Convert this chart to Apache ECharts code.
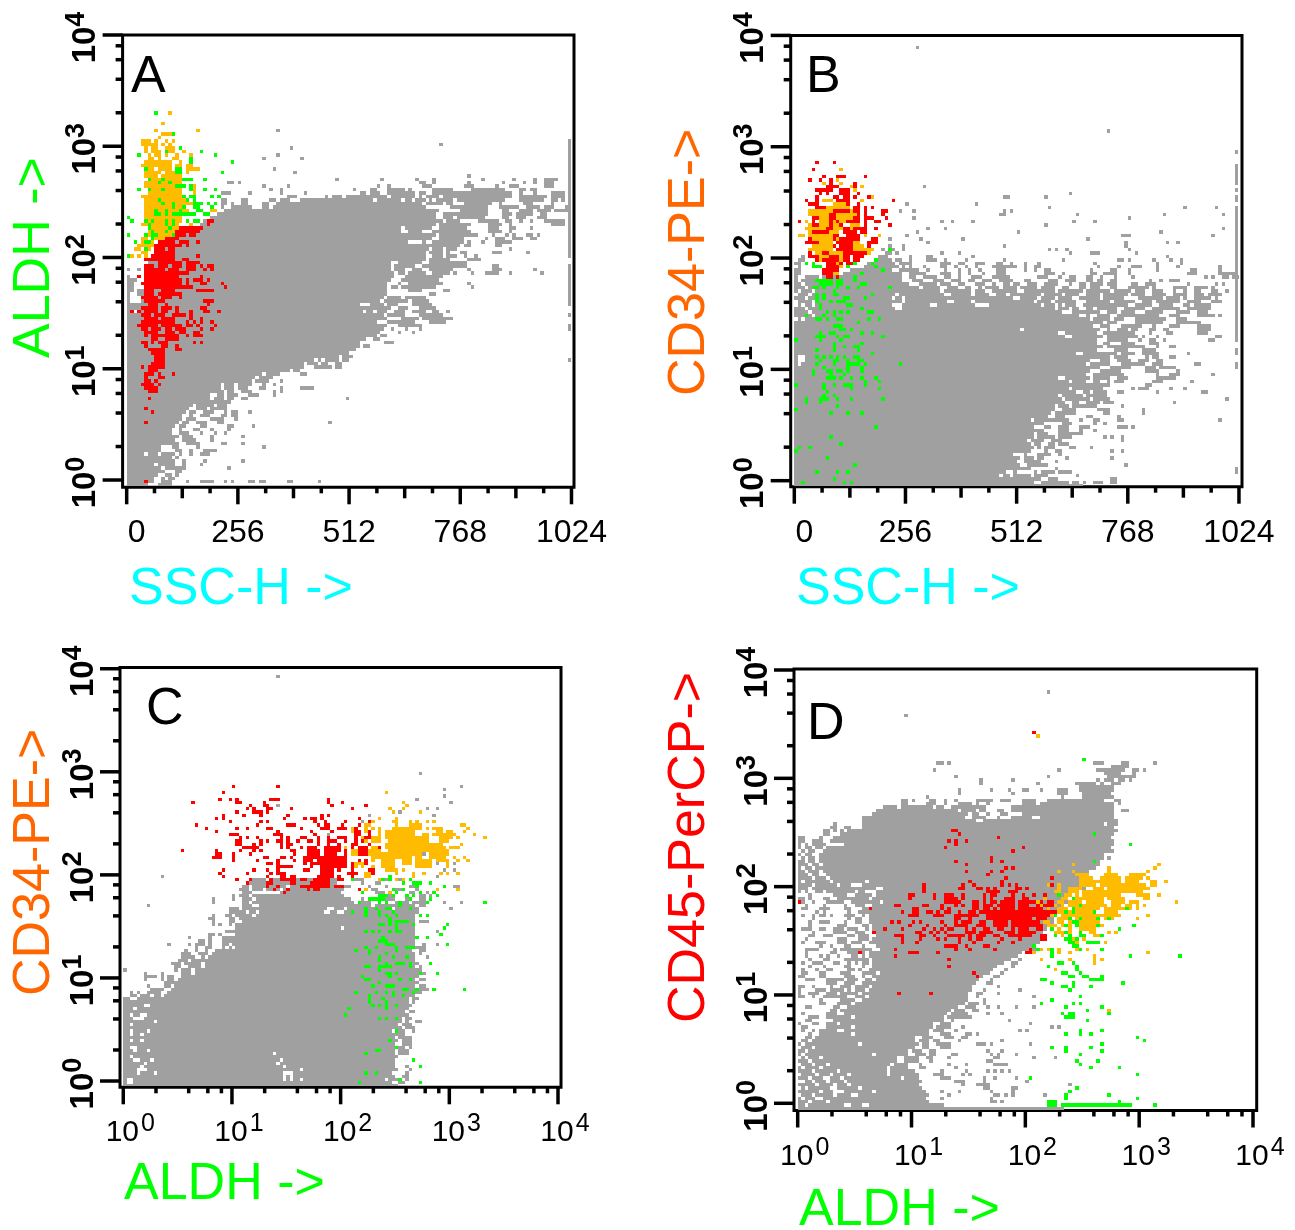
<!DOCTYPE html>
<html><head><meta charset="utf-8">
<style>html,body{margin:0;padding:0;background:#fff}#c{width:1295px;height:1230px}</style>
<script src="https://cdn.jsdelivr.net/npm/echarts@6/dist/echarts.min.js"></script></head>
<body><div id="c"></div><script>
// Events binned into cells: 32 channels per decade on log axes, 8 units per cell on the SSC-H axis.
// Row format: [row, firstCol, lastCol, firstCol, lastCol, ...]
const A_gray=[[-2,0,5,9,12],[-1,0,7,10,12,17,17,21,24,28,28,30,30,35,36,38,39,46,47,55,55],[0,0,7,10,10,12,13],[1,0,8,11,12,14,14],[2,0,10,14,15],[3,0,9,11,16,29,29],[4,0,7,9,13,16,16,21,21],[5,0,8,9,13,16,16,22,22,33,33],[6,0,12,14,14],[7,0,4,6,8,10,13,15,15,18,18,21,23],[8,0,9,14,15,18,18,22,25],[9,0,9,13,14,20,20,39,39],[10,0,14,17,20,27,28,33,33],[11,0,13,16,19,24,24],[12,0,14,16,18,24,24,33,33],[13,0,12,15,17,21,21,25,25,28,28],[14,0,12,15,15,19,20,24,24,29,29],[15,0,13,15,16,21,22,29,30,36,36],[16,0,14,16,17,20,22,26,27,58,58],[17,0,15,17,19,24,27,31,31],[18,0,15,18,18,21,23,27,28,30,31],[19,0,16,18,19,22,24,28,28,30,31,35,35],[20,0,17,20,22,24,28],[21,0,15,16,18,20,24,26,28],[22,0,22,23,29],[23,0,23,25,27,29,30,33,34,63,63],[24,0,23,26,27,29,31,35,37,42,42],[25,0,27,29,30,33,35,42,42,44,44],[26,0,26,28,30,32,34,38,39,44,44,50,53],[27,0,26,28,30,32,35,39,39,42,42],[28,0,35,37,40,44,44],[29,0,36,38,41],[30,0,38,40,43,50,51],[31,0,46,48,49],[32,0,50,54,58,60,61],[33,0,50,52,54,56,57,60,61],[34,0,53,55,55,57,60,62,63],[35,0,60,62,64],[36,0,63],[37,0,65],[38,0,66,68,69],[39,0,66,74,76],[40,0,68,71,72],[41,0,71,73,74],[42,0,72,78,78,82,82],[43,0,73,76,76,80,80,84,84],[44,0,74,78,84],[45,0,71,75,82,87,91],[46,0,74,79,83,85,93],[47,0,73,75,79,84,90],[48,0,0,4,67,69,70,72,74,77,79,82,85,88,89,92,92],[49,0,75,78,80,84,88],[50,0,66,70,73,75,77,82,87],[51,0,0,4,72,74,80,82,86],[52,0,0,4,73,75,78,80,85],[53,0,0,3,74,87,88],[54,0,1,3,74,81,84,91,92],[55,0,1,5,73,74,74,76,77,79,88,99,99],[56,0,1,5,74,78,78,81,90,98,98],[57,0,2,5,75,79,89],[58,0,0,5,76,80,90],[59,5,76,78,79,81,85,88,92,94,94,99,99,103,106,110,110,119,119],[60,0,0,3,3,5,75,77,79,82,84,87,93,98,98,105,107,117,117],[61,5,75,77,82,85,97,105,106],[62,6,75,78,84,87,97],[63,7,85,87,92,98,101],[64,8,85,88,90,92,94,97,97,100,100],[65,9,85,87,90,92,92,96,97,105,107,115,115],[66,11,86,88,90,92,94,110,110],[67,13,87,87,95,97,98,106,107],[68,14,77,78,80,85,85,88,96,98,98,102,102,106,110],[69,15,87,90,96,103,103,106,108,111,113,116,117],[70,17,88,90,100,105,105,109,109,111,111,115,116,118,118],[71,19,78,81,84,88,98,104,107,110,110],[72,20,78,80,87,90,97,104,106,110,111,116,116],[73,21,88,90,98,104,107,110,110,122,125],[74,22,90,92,95,101,106,109,110,113,113,116,116,120,125],[75,24,88,91,93,95,102,108,109,112,114,118,120],[76,26,88,91,103,108,110,112,116,119,120],[77,28,89,96,103,108,109,113,116,118,121,123,126],[78,27,27,30,35,39,40,42,85,93,103,107,112,115,118,120,122,126,127],[79,27,28,30,30,33,34,39,40,43,84,86,90,92,93,97,104,107,107,114,116,122,122],[80,27,28,33,34,41,42,44,46,50,70,72,78,80,81,83,85,87,87,89,93,95,108,113,119,122,123,125,125],[81,46,48,57,57,59,61,63,74,76,82,84,84,86,89,91,110,113,120,122,125,127,127],[82,27,29,35,35,44,44,51,51,67,68,70,72,75,82,84,85,88,110,113,113,117,117,122,125],[83,41,41,44,44,65,65,70,71,75,79,81,81,88,93,99,108,113,114,116,117],[84,39,39,46,46,72,72,75,75,85,87,97,99,106,106,110,112,120,122],[85,29,30,32,32,84,85,88,88,98,98,108,108,114,114,117,117,120,122],[86,60,60,73,73,83,83,88,88,102,102,111,111,117,117,120,123],[87,98,98],[88,48,48],[89,42,42],[92,39,39,50,50],[93,43,43],[95,47,47],[96,90,90],[100,43,43]];
const A_grayEdge=[[127,64,97],[127,50,61],[127,47,47],[127,43,44],[127,34,34]];
const A_orange=[[105,12,12],[102,10,10],[100,8,8,20,20],[99,10,12],[98,9,9],[97,4,6,8,8,11,11,13,13],[96,4,6,7,8,10,10,12,12],[95,5,5,7,8,11,13],[94,5,5,7,9,12,13,16,16],[93,6,6,8,9,11,11,14,14,18,18],[92,6,7,9,9,13,14],[91,5,12,15,15],[90,4,12,14,15,17,18],[89,5,7,9,12,15,15,17,20],[88,5,7,8,9,11,15,17,17],[87,5,8,10,15],[86,6,15],[85,5,15],[84,5,15,18,19],[83,6,15,18,19],[82,6,15,19,19],[81,4,16,19,19],[80,5,17],[79,5,18],[78,5,16],[77,5,17,24,25],[76,5,16],[75,5,15],[74,5,15],[73,4,14,18,18],[72,6,17],[71,6,17],[70,6,16],[69,4,5,7,10,12,13],[68,4,5,7,7,12,13],[67,3,4,5,9],[66,2,3,5,6],[65,4,5],[64,1,1,3,3,5,5],[63,5,5]];
const A_red=[[74,23,24],[73,23,23],[72,15,20,21,21],[71,14,20],[70,13,16,18,19],[69,11,14],[68,9,13,15,17,20,20],[67,8,15,17,17],[66,8,10,12,13],[65,8,13],[64,7,13,20,20],[63,5,8,9,13,16,17],[62,9,15,17,20],[61,5,7,9,11,13,15,17,19,21,21,23,24],[60,5,10,12,14,17,19,22,22,24,24],[59,5,17],[58,3,3,5,14,21,21],[57,5,15,17,17,19,21,23,23],[56,4,15,17,17,21,22,27,27],[55,5,18,28,28],[54,5,7,10,13,20,24],[53,5,7,9,15],[52,4,8,10,12,15,15],[51,5,10,22,24],[50,6,8,11,11,23,23],[49,4,8,10,12,14,14,21,22],[48,1,1,3,3,5,8,10,11,14,14,18,18,22,23,26,26],[47,4,6,8,10,13,16,18,18],[46,5,8,10,13,18,18,21,21],[45,4,11,12,13,17,17,19,19,21,21,24,24],[44,3,8,10,15,17,18,20,20,25,25],[43,4,5,7,9,11,12,14,16,21,21,24,24],[42,5,8,11,13,15,16,19,20],[41,5,5,7,14,17,17,19,21],[40,7,8,11,14],[39,4,5,7,7,9,11,19,19,21,21],[38,5,5,10,11,14,14],[37,6,10,14,15],[36,7,10],[35,8,10],[34,8,10],[33,7,10],[32,4,4,6,10],[31,6,8],[30,5,7,9,9,13,13],[29,5,5,9,10],[28,5,6,8,8],[27,4,7,9,9],[26,5,8],[25,6,8],[23,6,6],[20,5,5],[19,7,7],[16,5,5],[-1,5,5]];
const A_green=[[105,8,8],[99,13,13],[95,15,15],[94,11,11,21,21],[93,3,3,25,25],[92,18,18],[91,30,30,18,18],[89,5,5,14,15],[88,27,27,14,15],[86,6,6,10,10,16,18,22,22],[85,9,9,12,12],[84,14,16,18,18],[83,3,3,6,6,10,10,18,18,22,22,25,25],[81,16,16,18,19,24,24,26,26],[80,9,9,17,17,19,19],[79,10,10,13,13,19,21,23,23,25,25],[78,13,13,16,16,19,20,24,24],[77,8,8,11,11,15,15,20,21],[76,8,9,11,11,13,16,17,19,22,23],[75,0,0],[74,1,1,5,5,7,7,11,11,13,13,17,17,19,20],[73,6,6,11,11,13,13],[72,6,6,12,12],[71,7,7,11,11],[70,0,0,5,5,7,8,13,13],[69,7,7],[68,2,2,5,6],[66,5,5],[64,0,0]];
const B_gray=[[-2,0,82],[-1,0,68,71,78,80,81,83,83,86,88,91,92],[0,0,70,73,75,91,92],[1,0,58,60,61,63,67,69,72,81,81],[2,0,60,63,63,69,69,71,74,76,79],[3,0,67,75,75],[4,0,64,67,72,95,95],[5,0,63,66,70,75,75],[6,0,64,66,68,70,71,78,78,91,91],[7,0,62,66,66,70,73,76,76],[8,0,67,72,72,75,76,91,91,94,94],[9,0,68,70,70,72,74,79,80,85,85],[10,0,67,69,70,73,74,76,78],[11,0,66,68,71,74,76,94,94],[12,0,68,70,74,76,79,89,89,91,91,94,94],[13,0,68,70,72,76,82],[14,0,71,76,78,82,82,86,86],[15,0,68,72,73,76,78,82,84,93,95,97,97],[16,0,71,77,79,86,86,89,89],[17,0,67,69,70,71,78,82,82,86,87,93,94,122,122],[18,0,72,75,77,84,85,93,93],[19,0,73,75,80,89,90,100,100],[20,0,74,77,80,87,90,100,100],[21,0,74,76,78,80,86,94,94],[22,0,77,80,81,84,87,89,91,109,109],[23,0,76,78,84,86,90,124,124],[24,0,75,77,82,84,89],[25,0,80,83,84,86,89,93,94,104,104,117,118],[26,0,78,80,84,85,88,97,97,99,101,108,108,112,112],[27,0,84,85,90,101,102],[28,0,78,80,83,86,87,90,90,92,94,103,105,114,114],[29,0,75,78,84,86,90,93,95,104,109],[30,0,83,86,94,104,104,108,110,120,120],[31,0,84,88,93,101,104,110,110],[32,0,87,91,96,101,103,105,109],[33,0,0,2,83,85,90,94,100,103,105,115,116],[34,0,0,3,84,88,90,93,96,99,101,104,105],[35,0,0,3,90,92,95,101,101,103,104,108,109],[36,0,80,83,92,94,97,100,104,113,113],[37,0,86,92,95,100,103],[38,0,88,90,100,104,104,108,109],[39,0,86,89,90,94,97,102,104],[40,0,86,90,95,99,99,102,103,106,106,119,120],[41,0,77,80,88,90,98,100,100,104,104,121,122],[42,0,75,78,86,89,97,102,102,107,108,116,118],[43,0,64,66,87,90,90,93,95,97,98,102,103,106,107,116,119],[44,0,85,88,90,94,99,103,103,108,110,116,119],[45,0,88,90,92,98,105,110,116],[46,1,1,3,84,86,90,92,94,98,106,110,112],[47,0,4,6,81,84,84,87,90,93,104,108,110,116,120,122,122],[48,0,3,5,76,80,87,90,92,94,97,101,105,110,113,116,118],[49,0,2,4,6,8,28,31,74,76,78,80,81,84,85,87,92,95,100,103,110,113,119],[50,1,1,3,4,6,27,31,38,41,51,56,70,72,74,76,76,78,80,83,87,88,95,98,102,105,108,112,113,115,119],[51,1,4,6,30,32,43,46,50,52,68,70,73,75,80,84,90,92,97,100,102,104,110,113,116,120,122],[52,0,2,4,5,7,27,29,30,32,62,65,69,71,74,76,79,82,87,89,94,99,105,107,110,112,112,115,119,121,121],[53,1,3,5,7,9,28,30,42,45,50,52,55,58,60,62,70,72,76,78,81,84,87,89,95,97,100,103,106,109,112,115,117,119,122],[54,0,0,2,4,6,41,43,50,52,54,57,63,66,74,76,82,84,90,92,96,98,100,103,105,109,109,112,112,115,116,120,121,124,124],[55,0,2,4,35,37,41,44,46,49,50,53,53,55,58,60,63,65,69,71,74,77,78,82,83,85,87,91,92,96,101,103,103,109,112,115,118,120,120],[56,0,1,3,32,36,40,42,44,47,48,52,54,57,57,60,61,63,64,67,69,72,75,79,79,82,83,85,88,90,92,97,98,101,103,113,113,121,121,123,123],[57,0,0,2,30,34,36,40,42,45,47,50,51,54,56,59,62,66,67,73,75,78,80,84,85,87,88,91,92,102,102,105,105,108,110],[58,0,0,3,6,8,30,33,34,37,40,43,44,47,47,51,53,57,61,70,72,76,76,79,80,84,85,88,88,92,92,97,97,118,118,120,120,123,124,126,127],[59,0,1,14,30,33,37,42,44,47,47,50,50,54,54,58,60,72,74,77,77,85,86,89,92,96,96,113,115,122,124,125,126],[60,0,1,16,27,30,35,38,38,43,43,47,47,50,50,53,53,58,60,66,66,69,69,72,73,85,85,91,92,96,96,104,104,114,115,122,122],[61,1,1,20,29,31,31,33,33,37,37,42,43,46,46,49,49,52,52,57,63,66,66,69,70,87,87,93,93,97,99,104,104,110,110,122,122],[62,0,1,21,28,30,33,42,44,47,48,52,54,58,59,62,62,66,66,70,70,86,86,104,104,111,111],[63,1,2,23,27,29,30,33,33,38,40,43,43,49,49,60,60,77,77,93,94,96,96,103,103,108,108,111,111],[64,2,2,24,26,33,33,38,39,51,51,107,107],[65,26,27,29,29,42,42,47,47,79,79,85,87,98,98],[66,25,25,28,28,31,31,73,73,75,75,78,78,96,96],[67,27,27,31,31,60,60,95,95],[68,38,38,95,95,107,107,110,110],[69,27,27,36,36,48,48,84,84],[70,32,32,94,96,120,120],[71,35,35,64,64,105,105],[72,38,38,43,43,123,123],[73,72,72],[74,42,42,45,45,51,51,80,80,86,86],[75,34,34,96,96],[76,60,60,59,59,81,81,106,106,123,123],[77,30,30,34,34,62,62,60,60],[78,73,73,112,112,121,121],[79,32,32,52,52],[81,60,61,72,72],[82,79,79],[84,37,37],[100,90,90],[124,35,35]];
const B_grayEdge=[[127,94,94],[127,89,90],[127,85,88],[127,83,83],[127,80,81],[127,40,78],[127,36,37],[127,32,33],[127,2,3]];
const B_orange=[[89,13,13],[86,12,12],[85,8,8,13,13],[84,16,16,19,19],[83,17,17],[81,22,22],[80,8,10,19,19],[79,11,14],[78,9,10,11,15],[77,4,10,16,16],[76,4,9,12,17],[75,7,9,12,16],[74,3,3,7,9,11,11,13,14],[73,4,9,11,12,16,18],[72,3,8,11,13,16,16],[71,4,4,10,12],[70,1,2,4,10,20,20,24,24],[69,5,10,12,12],[68,7,10,17,18],[67,5,10,17,19],[66,4,10,17,22],[65,6,7,10,13,21,21],[64,7,9,13,13],[63,7,7,13,13],[62,12,12],[61,13,13],[59,11,12]];
const B_red=[[91,6,6,11,11],[89,5,5],[87,8,8,12,14,20,20],[86,4,4,7,7,10,10],[85,10,10,17,17],[84,9,12,17,17],[83,6,10,13,15],[82,7,7,9,9,13,15,18,18],[81,6,6,11,12,14,15,17,17,21,21],[80,3,3,6,6,12,15,28,28],[79,4,6,15,15,18,18],[78,6,8,17,18,20,20,22,22],[77,11,15,17,18,20,20,25,26],[76,10,11,18,18,20,20,25,25],[75,5,6,10,11,17,18,20,22,26,26],[74,1,1,5,5,10,10,12,12,15,16,17,18,20,20,23,24],[73,5,6,10,10,13,13,20,20,27,27],[72,9,10,14,15,17,20,23,23],[71,5,9,14,17,19,20],[70,11,12,15,18],[69,4,4,11,11,13,18,22,23],[68,3,6,12,16,21,23],[67,11,11,13,16,21,21],[66,12,16],[65,4,4,8,9,14,17,18,20],[64,4,6,10,12,14,15,17,19],[63,6,6,8,12,14,15,17,18],[62,9,11,13,13,15,16],[61,9,12,15,15],[60,8,12],[59,8,10],[58,9,10,12,12]];
const B_green=[[66,27,27],[63,23,23],[62,3,3,5,5,17,17,22,22],[61,5,7,15,15,23,23],[60,25,25],[59,19,19],[58,17,17],[57,6,10,12,13,17,17],[56,7,10,12,13,19,20],[55,5,6,8,8,12,12,15,15,18,18,27,27],[54,11,11],[53,6,6,8,8,11,12,22,22],[52,6,6,8,8,14,15,20,20],[51,6,6,10,10,12,14],[50,7,7,15,16],[49,7,7,19,19],[48,9,9,11,11,13,13,15,15,21,22],[47,3,3,8,8,11,11],[46,6,7,9,9,12,13,21,21,24,24],[45,18,18],[44,11,13],[43,13,14,16,16],[42,7,7,10,11,19,19,22,22],[41,6,8,12,12,14,15,25,25],[40,0,0,7,7,13,13],[39,11,11,19,19],[38,11,11,14,14,17,18],[37,6,6,11,11,18,18],[36,22,22],[35,6,6,8,8,10,10,12,12,14,14,17,18],[34,7,7,11,12,15,15,18,19],[33,6,6,11,11,15,18,20,20,30,30],[32,8,8,15,15,19,19],[31,5,5,9,10,12,13,15,15,19,19],[30,5,5,10,10,14,14],[29,9,11,13,13,16,16,19,19,23,23],[28,20,20,24,24],[27,0,0,8,8,11,11,14,16,20,20],[26,8,8,16,16,24,24],[25,9,9],[24,8,8,11,11],[23,3,3,7,9,12,12,16,16,25,25],[22,3,3,7,7],[21,12,12],[20,0,0],[19,10,10,15,15,19,19],[15,23,23],[12,10,10],[10,13,13],[9,1,1,4,4],[8,0,0],[6,9,9],[4,17,17],[2,6,6,12,12,15,15],[0,11,11],[-1,2,2,14,14,16,16]];
const C_gray=[[-2,0,80],[-1,0,0,3,78,81,82],[0,0,0,3,46,48,48,50,51,53,76,78,80,83,83],[1,0,46,48,48,50,79,82,83],[2,0,3,5,8,10,46,50,78,83,83],[3,0,3,7,51,53,80,84,84],[4,0,4,6,46,48,79,83,83],[5,0,5,7,44,46,79],[6,0,2,5,7,9,45,47,79],[7,0,1,3,80],[8,0,43,45,79,81,83],[9,0,2,4,6,8,79,81,83],[10,0,1,4,79,81,82,84,84],[11,0,79,82,84],[12,0,1,3,4,6,80,82,84],[13,0,79,81,84],[14,0,1,3,4,6,82],[15,0,1,3,6,8,78,80,82,85,85],[16,0,81,83,85],[17,0,1,3,80,82,84],[18,0,8,10,81,83,83,86,87],[19,0,2,6,81,83,84],[20,0,1,3,4,7,83],[21,0,82,84,85],[22,0,2,4,83],[23,0,5,8,84],[24,0,83,85,85],[25,0,1,4,83,85,86],[26,2,3,5,7,9,10,12,85],[27,2,2,4,4,7,10,13,84,86,87],[28,8,11,14,85,87,89],[29,7,7,12,13,15,85,87,88],[30,12,14,15,86],[31,6,6,11,11,13,14,16,85,87,88],[32,6,9,11,11,13,14,17,86],[33,6,6,11,11,17,19,21,86,87,88],[34,0,0,15,15,17,19,21,87],[35,15,16,19,22,24,85,87,87],[36,14,16,18,22,24,86,90,90],[37,16,17,18,18,20,22,23,85],[38,17,20,23,23,25,85,89,89],[39,17,19,22,24,26,85,87,87],[40,18,18,21,21,24,24,27,84,87,88],[41,21,21,24,25,29,29,31,31,33,83,85,88],[42,13,13,19,19,21,23,25,25,29,30,32,85,88,88,92,92],[43,22,23,25,25,29,85],[44,19,19,25,25,29,86,89,89],[45,25,26,28,28,33,85],[46,30,32,33,85,92,92],[47,33,63,65,85],[48,26,26,28,28,31,31,33,85],[49,26,26,31,32,35,85,87,89],[50,25,26,31,32,34,85],[51,26,26,30,31,33,37,39,85],[52,31,32,33,35,37,38,40,58,61,62,65,86],[53,31,33,35,59,62,64,66,78,80,86,96,96],[54,7,7,35,37,40,72,74,80,82,85,87,88],[55,26,26,35,36,38,67,69,72,80,83,85,88,94,94,99,99],[56,26,26,32,32,35,37,39,66,70,70,76,79,83,84,87,88],[57,32,32,34,36,38,64,78,79,87,88,90,90],[58,35,37,46,63,74,76,84,85,89,89],[59,34,36,38,40,42,45,47,64,73,74,80,81,86,86],[60,35,36,38,47,49,62,65,66,72,72,77,77,84,85,97,98],[61,36,62,70,70,74,75,86,86],[62,37,41,43,62,68,70,76,77,81,81],[63,11,11,92,92],[65,94,94,97,97],[67,92,92,97,97],[70,88,88],[72,94,94],[76,60,60],[78,86,87],[79,86,87],[80,70,70],[82,72,72,91,91],[83,81,81],[84,89,89,92,92],[85,45,45],[86,96,96],[87,86,86],[88,94,94],[90,94,94],[91,99,99],[95,87,87],[125,45,45]];
const C_orange=[[89,77,77],[86,82,82],[85,83,83],[84,78,78,82,82],[83,79,79,87,87],[81,75,75,80,80],[80,73,73,79,80,84,84,86,86,89,89,91,91],[79,71,72,80,80,84,87,99,100],[78,67,67,71,71,73,73,75,75,79,87,89,89,91,93,101,101],[77,67,68,71,72,75,75,77,85,92,93,95,96,100,100],[76,75,75,77,85,88,89,91,92,93,96,97,97,103,103],[75,70,70,73,75,77,84,85,89,93,96,98,98,106,106],[74,71,71,73,75,78,89,93,95],[73,67,67,77,90,91,93,99,99],[72,65,65,73,75,77,94,96,98],[71,67,68,72,75,78,93,94,95],[70,67,68,72,87,90,94,95,95],[69,73,75,76,84,86,87,90,94,97,97,100,100],[68,65,65,71,71,73,73,76,79,82,84,86,89,90,90,92,94,95,95,98,98,101,101],[67,65,65,68,70,71,71,76,79,82,84,86,89,90,90,95,95],[66,68,68,70,70,73,73,76,79,86,89,90,90,95,95],[65,77,80,82,82],[64,71,73,80,80,85,85,88,88,93,93,95,95,98,98],[63,71,72,85,85],[62,75,76,80,80,82,82],[59,71,71,92,92,98,98],[58,78,78]];
const C_red=[[91,32,32,45,45],[89,29,29],[87,28,28,31,31,33,33,43,45,60,60],[86,20,20,33,34,41,41,60,60,64,64],[85,37,37,41,42,61,61,71,71],[84,36,36,38,38,42,43,49,49,67,67],[83,33,33,38,40,42,42],[82,29,29,35,35,40,40,48,48,58,58,60,60],[81,27,27,29,29,47,47,53,53,55,56,58,58,69,69],[80,31,31,40,40,42,42,56,56,59,59,65,65,72,72],[79,21,21,39,39,48,50,57,57,59,60,64,64,69,69],[78,24,24,33,33,36,36,42,43,52,52,58,60,63,65,68,68],[77,27,27,45,45,55,55,61,61,68,69,72,72],[76,31,33,44,46,56,56,68,69,72,72],[75,34,34,36,36,39,39,46,46,48,48,52,53,57,57,60,60,63,65,68,68,71,72],[74,33,34,40,40,42,42,45,46,48,48,51,51,54,55,57,57,60,62,65,65,68,68,70,70],[73,33,34,38,38,40,40,46,46,48,49,57,57,60,60,63,63,67,68,72,72],[72,35,39,46,46,48,48,52,52,54,56,59,63,67,67,69,71,75,75],[71,17,17,27,27,34,34,38,38,40,40,49,50,54,57,59,63,65,65,69,71],[70,27,28,32,32,37,37,50,50,54,57,59,62,65,65,69,71],[69,26,28,32,32,41,42,46,47,49,49,53,65],[68,32,32,39,39,45,45,50,50,53,55,57,65,69,69,71,71],[67,42,43,45,45,53,53,55,65,67,67,71,71],[66,45,49,55,55,58,61,62,65,67,67],[65,29,29,38,38,42,42,45,45,53,54,58,61,63,63,67,67,72,73],[64,28,28,36,36,43,43,45,47,58,61,66,68,73,73],[63,29,29,42,42,46,47,49,50,57,61,63,63,67,67],[62,33,33,37,37,43,43,46,50,52,53,56,60,63,64],[61,36,36,42,43,49,50,55,60],[60,42,42,45,45,52,60,62,64],[59,44,44,48,48,54,54,56,57,69,69],[58,47,47]];
const C_green=[[63,78,78],[62,67,67,76,76,78,78,84,84],[61,82,82,85,87,90,90],[60,86,86,94,94],[59,79,79,82,82],[58,70,70,80,80,87,87,91,91],[57,75,77,79,79,83,83,85,85,92,92],[56,72,76,84,84,90,90],[55,69,69,75,75,77,77,81,81,89,89,106,106],[54,81,81],[53,71,71,74,74,77,78,84,84],[52,67,67,71,71,75,75,79,79],[51,71,71,75,75,77,77,80,80,87,87,89,89],[50,78,78],[49,78,78,80,83],[48,75,76,78,78,80,80,85,85,95,95],[47,80,80,94,94],[46,71,71,73,73,75,75,78,78,80,81],[45,93,93],[44,76,76,86,86,89,89],[43,75,77],[42,77,79,95,95],[41,71,71,74,74,80,80,83,85],[40,68,68,72,72,80,80],[39,72,72,77,77],[38,75,75,79,79,83,83],[37,75,75],[36,77,77,80,82,84,84,90,90],[35,71,72,75,78,84,84],[34,75,75],[33,77,78,80,80,87,87,92,92],[32,70,70,78,78],[31,71,72,81,81,84,84],[30,75,75],[29,73,73,77,79],[28,82,83,86,86,91,91,100,100],[27,68,68,74,74,77,77,79,79,85,85],[26,72,72,79,79,82,82],[25,72,72,76,76],[24,72,72,77,77],[23,73,73,75,75,77,77,80,80],[22,66,66,77,77],[20,65,65],[19,75,75,77,77,80,80],[15,80,80],[12,78,78],[10,80,80],[9,74,75],[8,71,71],[6,85,85],[4,87,87],[2,71,71,74,74],[0,81,81],[-1,69,69,87,87]];
const D_gray=[[-2,0,74],[-1,0,1,3,12,15,17,20,40],[0,0,2,4,7,9,36,55,55],[1,0,0,2,4,7,35,40,40,54,54],[2,1,3,5,9,11,14,17,36,42,42,55,55,60,60],[3,0,5,7,9,13,20,22,35,40,40,60,60],[4,1,1,3,8,11,16,18,34,52,53,60,61],[5,0,4,6,9,11,13,15,33,46,46,50,53],[6,2,3,5,7,9,12,14,34,44,46,52,52],[7,0,2,4,6,9,11,13,28,30,33,40,42],[8,1,4,6,8,10,13,15,24,26,33,38,40,48,48],[9,0,3,5,10,12,24,26,32,40,40,47,47,55,55],[10,0,0,2,5,7,24,26,30,34,35,44,44],[11,1,3,5,7,9,25,27,30,34,34,42,42,55,58],[12,0,2,4,27,30,33,37,37,53,54],[13,1,1,3,5,7,27,30,33,36,37,42,42,55,56],[14,0,0,2,20,22,30,33,35,37,38,43,44],[15,0,1,3,30,32,34,37,38,53,53],[16,1,3,5,32,35,36,40,42],[17,0,0,2,16,18,33,35,36,39,42,50,52],[18,1,2,4,32,34,36,38,39,45,45],[19,2,3,5,32,35,37,41,43,46,47],[20,3,3,6,14,16,36,40,42,47,48],[21,1,1,4,4,6,10,13,36,38,40,44,44],[22,1,2,8,14,16,37,39,42,46,46],[23,0,0,4,5,8,10,12,37,40,42],[24,2,3,10,40,43,43],[25,3,5,8,14,16,40,42,48],[26,1,1,8,10,13,41,43,47,53,53],[27,9,10,12,42,44,46,49,50],[28,2,3,10,11,14,44,47,49,56,56],[29,6,7,11,14,16,46,48,50],[30,6,6,12,15,18,47,52,52],[31,0,1,4,4,7,13,16,18,20,47,50,50],[32,0,0,3,5,8,10,12,16,18,47,50,51],[33,0,0,5,7,9,12,14,14,16,18,20,48,52,52],[34,0,1,4,4,9,9,12,14,16,19,21,48,56,56],[35,8,10,13,15,18,49,53,54],[36,2,4,8,10,14,16,19,20,22,50,54,54],[37,0,1,6,7,13,15,18,18,21,51,55,56],[38,1,2,12,14,18,21,23,53,57,57],[39,5,5,8,9,14,15,17,17,20,54,58,58],[40,3,3,7,7,13,14,18,18,21,55,60,60],[41,1,1,10,11,14,14,16,16,18,19,21,57,60,61],[42,3,3,7,8,13,19,21,59,62,62],[43,2,2,6,6,11,11,15,16,18,18,20,61],[44,2,2,9,10,14,18,20,62],[45,10,10,12,20,23,66],[46,6,6,9,9,13,14,18,18,22,66],[47,11,13,15,17,20,67],[48,2,2,11,13,17,19,21,68],[49,3,4,14,15,17,19,22,68],[50,4,4,10,13,16,18,21,68],[51,10,12,14,16,19,19,21,69],[52,3,3,11,13,18,19,21,70],[53,3,3,13,13,16,17,20,71],[54,4,4,14,14,16,17,20,71],[55,4,4,9,9,13,15,18,18,20,72],[56,5,5,7,7,14,14,17,20,21,72],[57,6,8,13,14,18,19,21,73],[58,2,2,7,7,13,13,16,18,21,74],[59,1,1,4,4,8,12,15,22,24,75],[60,0,1,3,3,7,8,11,13,14,19,21,75],[61,3,3,10,13,16,20,22,75],[62,0,0,2,2,5,6,8,15,17,18,22,75],[63,0,2,4,15,16,21,24,80],[64,0,3,5,10,12,14,18,80],[65,0,0,2,8,10,15,16,18,20,80],[66,0,3,5,7,9,80],[67,0,2,4,5,8,78],[68,0,1,3,5,7,81],[69,0,0,2,3,5,83],[70,0,2,4,5,7,84],[71,0,1,3,4,6,84],[72,1,1,3,4,6,85,87,87],[73,0,0,2,3,6,85],[74,1,1,3,4,7,86,87,88],[75,0,0,2,3,5,6,8,87],[76,0,0,2,2,4,7,13,88],[77,0,1,4,6,9,88],[78,0,1,6,6,10,87],[79,7,8,12,14,15,88],[80,7,8,10,10,12,12,14,89],[81,9,10,13,14,18,88],[82,10,10,18,85,87,89],[83,18,49,52,58,59,89],[84,18,46,49,52,56,56,60,65,68,88],[85,21,47,49,50,53,53,57,58,63,88],[86,22,41,42,44,46,49,51,52,56,57,60,88,91,92],[87,24,27,29,34,35,37,39,40,43,50,51,52,60,62,62,88],[88,29,30,36,38,41,41,45,48,50,50,53,53,63,66,68,88,90,90],[89,29,30,32,32,37,38,41,41,44,44,50,51,52,54,57,59,63,66,70,85,89,90],[90,36,36,74,74,80,88],[91,45,45,60,60,73,75,80,87],[92,45,45,54,54,59,59,63,64,68,68,73,75,79,88],[93,79,88],[94,51,51,67,67,78,79,80,83,85,85,88,90],[95,51,51,60,60,84,84,86,88,90,91,93,93],[96,44,44,70,70,87,94],[97,86,90,94,94],[98,38,38,73,73,84,85,86,91,94,95,97,97],[99,88,90,91,92],[100,39,40,42,42,83,85,91,92,100,100],[114,30,30],[121,70,70]];
const D_grayScatter=[[57,1,2],[55,1,1,6,7],[53,6,8],[51,1,3,6,7],[49,7,9],[47,1,1,5,7],[45,2,5],[43,8,8],[41,4,6],[39,1,1],[38,6,7],[36,11,12],[33,52,52,62,62],[32,56,56],[31,66,66],[29,52,52],[28,53,53,61,61,66,66],[26,57,57],[24,59,59],[23,65,65],[22,71,71,73,73],[21,62,62,64,64],[20,50,50],[18,57,57],[17,54,54,65,65],[15,57,57],[14,54,54,56,56,61,61],[13,66,66,72,72],[11,47,47,57,57],[9,53,53,57,57,59,59],[8,46,46],[7,52,52,55,55,61,61],[6,64,64],[5,76,76],[3,45,45,54,54],[2,56,56,58,58,69,69],[0,54,54,57,57]];
const D_orange=[[108,67,67],[70,77,77,101,101],[69,100,100,87,87],[68,73,73,77,77,87,87,98,98],[67,78,81,86,89,93,97],[66,79,82,85,90,92,96,98,98],[65,79,83,84,90,92,95,99,100,103,103],[64,70,70,73,73,79,83,85,92,93,97,99,100],[63,73,73,76,79,83,85,87,89,90,98],[62,72,73,76,78,80,87,88,96],[61,75,76,78,78,80,83,84,90,95,96,97,98,101,101],[60,69,69,74,75,78,85,87,91,97,98],[59,67,68,73,74,76,79,81,85,88,91,93,95,106,106],[58,67,68,72,72,74,74,76,78,80,86,88,90,92,93,95,95,97,97],[57,65,66,70,70,73,75,78,84,86,92,93,93,95,95],[56,64,64,73,76,78,82,86,89],[55,70,71,74,85,86,90,98,98],[54,65,65,69,69,73,75,78,84,86,88,95,95],[53,69,70,73,74,76,76,79,84],[52,70,72,74,76,79,85],[51,73,73,76,76,79,83],[50,72,74,76,76,82,83,87,87,89,89],[49,74,74,83,84],[48,76,77,80,80],[47,78,78,86,86],[46,77,78],[45,67,68,70,70,73,73,78,79,81,81],[44,66,66,73,73,76,76,98,98],[43,83,83],[42,68,68,76,76,83,83,85,85],[41,83,83],[39,72,72],[38,75,75],[27,87,87]];
const D_red=[[109,66,66],[80,43,44],[79,45,45],[78,56,56],[77,42,42,44,44,47,47],[76,44,44],[75,41,41,63,63],[74,60,60],[72,54,54],[71,44,44,54,54,57,57],[70,47,47],[69,58,58,60,60],[68,47,47,54,54,57,57],[67,53,53],[66,58,58,71,71],[65,48,48,57,57],[64,35,35,46,46,49,49,57,57,59,59,61,61,71,71],[63,35,35,45,46,50,51,53,53,55,55,61,62,64,64],[62,35,35,53,56,59,61],[61,31,32,38,38,41,43,46,46,52,52,54,55,60,60,63,63,66,66,69,69],[60,31,31,38,38,41,44,46,46,52,52,54,54,58,60,63,64],[59,0,0,41,45,49,50,52,52,54,55,57,60,62,66,68,68,70,71],[58,27,28,35,36,40,40,44,44,46,46,49,50,52,54,56,60,62,64,67,67,69,71],[57,20,20,32,33,40,40,42,42,49,50,52,53,55,55,57,60,62,68],[56,29,29,32,33,36,37,39,39,41,42,45,45,48,49,51,54,55,72],[55,31,33,38,40,44,50,53,70],[54,44,45,48,48,53,65,67,69],[53,26,26,28,28,32,32,34,34,40,40,44,44,46,48,51,52,55,58,60,62,63,67],[52,31,31,36,36,41,41,44,47,50,52,55,58,60,62,63,68],[51,24,24,29,29,35,35,38,38,40,40,42,43,47,47,49,49,52,53,56,57,60,60,62,64,67,68],[50,21,21,33,34,37,37,39,39,41,41,47,49,51,54,58,60,62,66],[49,27,29,34,35,38,38,42,46,48,48,50,52,55,56,59,65,68,69],[48,29,29,34,34,39,39,41,41,45,45,48,48,50,51,57,57,62,62,68,69],[47,29,29,33,33,45,45,49,49,56,56,60,60],[46,41,44,47,47,52,53],[45,27,27,44,44,48,48,55,55,65,65],[44,17,17,31,33,39,39,64,65],[43,27,27],[42,42,42],[40,42,42],[38,49,49],[37,50,50],[32,28,28,37,37]];
const D_green=[[101,80,80],[79,83,83],[76,93,93],[71,83,83],[61,73,73],[60,77,77],[58,79,79],[57,77,77,92,92],[56,75,75,77,77,83,83],[55,72,72],[54,76,76,79,79,84,84,87,87],[53,77,78],[52,75,75,78,78,84,84,94,94],[51,71,71,90,90],[50,75,75,79,79],[49,72,72,76,76,79,80,85,85],[48,75,76,78,78],[47,76,77,81,83,84,84],[46,66,66,77,78],[45,67,67,71,71,79,79,85,85],[44,71,71],[43,71,71,93,93,107,107],[41,73,74,77,77],[40,70,70,78,78],[39,78,78],[38,74,75,79,79],[37,76,77,80,81,85,85],[36,68,69,82,83,84,85],[35,71,71,77,77,91,91],[34,74,75,77,77,82,82],[33,76,76],[31,79,79],[30,71,71],[29,68,68,77,77,79,79],[28,75,75,85,85],[27,81,81],[26,74,74,76,77,87,87],[25,75,77],[24,81,81],[21,79,79,85,85],[20,75,75,79,79,82,82],[19,95,95],[18,97,97],[17,85,85],[16,71,71,75,75,82,82],[15,75,75,85,85],[14,79,79],[12,78,78,84,84],[11,79,79],[10,82,82,90,90],[8,95,95],[7,65,65],[4,78,78],[3,76,76],[2,75,75,87,87],[1,75,75,95,95],[0,70,72,90,90],[-1,70,72,74,92,93,93,100,100]];

const linMajor=[0,256,512,768,1024],linMid=[128,384,640,896],linMinor=[64,192,320,448,576,704,832,960];
const logMajor=[1,10,100,1000,10000];
const logMinor=[2,4,6,8,20,40,60,80,200,400,600,800,2000,4000,6000,8000];
const COLORS={gray:'#a0a0a0',orange:'#ffbb00',red:'#ff0000',green:'#00ff00'};

const panels=[
 {id:'A',frame:[122.6,35,574,487.3],lin:true,xr:[-9.4,1029.8],yr:[0.86,10000],gray:A_gray,edge:A_grayEdge,orange:A_orange,red:A_red,green:A_green},
 {id:'B',frame:[790.7,35.4,1242,486.7],lin:true,xr:[-8.3,1031],yr:[0.883,10000],gray:B_gray,edge:B_grayEdge,orange:B_orange,red:B_red,green:B_green},
 {id:'C',frame:[120,667.5,561,1087.3],lin:false,xr:[0.933,10656],yr:[0.869,10280],gray:C_gray,edge:[],orange:C_orange,red:C_red,green:C_green},
 {id:'D',frame:[794,669,1256.7,1110.5],lin:false,xr:[0.928,10777],yr:[0.858,10215],gray:D_gray.concat(D_grayScatter),edge:[],orange:D_orange,red:D_red,green:D_green}
];
const texts=[
 ['A',131,78,0,'#000'],['SSC-H ->',129,590,0,'#00ffff'],['ALDH ->',34.5,358,1,'#00ff00'],
 ['B',806,78,0,'#000'],['SSC-H ->',796,590,0,'#00ffff'],['CD34-PE->',689.5,396,1,'#ff6600'],
 ['C',146,710,0,'#000'],['ALDH ->',124,1185,0,'#00ff00'],['CD34-PE->',34.5,996,1,'#ff6600'],
 ['D',807,725,0,'#000'],['ALDH ->',799,1211,0,'#00ff00'],['CD45-PerCP->',689.5,1023,1,'#ff0000']
];

const FONT='"Liberation Sans"';
function expand(rows,edge,lin){
  const xv=c=>lin?c*8:Math.pow(10,c/32), yv=r=>Math.pow(10,r/32), out=[];
  rows.forEach(row=>{for(let i=1;i+1<row.length;i+=2) out.push([xv(row[i]),xv(row[i+1]+1),yv(row[0]),yv(row[0]+1)]);});
  (edge||[]).forEach(e=>out.push([xv(e[0]),xv(e[0]+0.75),yv(e[1]),yv(e[2]+1)]));
  return out;
}
function cells(i,name,color,rows,edge,lin){
  return {type:'custom',name,xAxisIndex:i,yAxisIndex:i,silent:true,animation:false,encode:{x:[0,1],y:[2,3]},data:expand(rows,edge,lin),
   renderItem:(p,api)=>{
    const a=api.coord([api.value(0),api.value(3)]),b=api.coord([api.value(1),api.value(2)]),cs=p.coordSys;
    const x0=Math.round(a[0]),y0=Math.round(a[1]),x1=Math.round(b[0]),y1=Math.min(Math.round(b[1]),Math.round(cs.y+cs.height-1));
    return {type:'rect',shape:{x:x0,y:y0,width:x1-x0,height:y1-y0},style:{fill:color,stroke:null}};
   }};
}
function ticks(i,axis,vals,len){
  return {type:'custom',xAxisIndex:i,yAxisIndex:i,silent:true,animation:false,z:5,encode:axis==='x'?{x:0}:{y:0},data:vals.map(v=>[v]),
   renderItem:(p,api)=>{
    const cs=p.coordSys,v=api.value(0);
    if(axis==='x'){const x=api.coord([v,1])[0],y=cs.y+cs.height;return {type:'line',shape:{x1:x,y1:y,x2:x,y2:y+len},style:{stroke:'#000',lineWidth:3.5}};}
    const y=api.coord([1,v])[1];return {type:'line',shape:{x1:cs.x,y1:y,x2:cs.x-len,y2:y},style:{stroke:'#000',lineWidth:3.5}};
   }};
}
const grids=[],xAxes=[],yAxes=[],series=[];
panels.forEach((p,i)=>{
  const [l,t,r,b]=p.frame;
  grids.push({left:l,top:t,width:r-l,height:b-t,show:true,backgroundColor:'#fff',borderColor:'#000',borderWidth:3,z:1});
  const xa={gridIndex:i,min:p.xr[0],max:p.xr[1],axisLine:{show:false},axisTick:{show:false},splitLine:{show:false}};
  if(p.lin){
    xAxes.push({...xa,type:'value',axisLabel:{customValues:linMajor,margin:30,color:'#000',fontFamily:FONT,fontSize:32,
      formatter:v=>v===0?'{z|0}':''+v,rich:{z:{fontFamily:FONT,fontSize:32,color:'#000',padding:[0,0,0,20]}}}});
  } else {
    xAxes.push({...xa,type:'log',axisLabel:{customValues:logMajor,margin:p.id==='C'?24:25,padding:[0,0,0,14],
      formatter:v=>`{b|10}{e|${Math.round(Math.log10(v))}}`,
      rich:{b:{fontFamily:FONT,fontSize:30,color:'#000',lineHeight:36,verticalAlign:'bottom'},e:{fontFamily:FONT,fontSize:25,color:'#000',lineHeight:36,verticalAlign:'top',padding:[0,0,0,2]}}}});
  }
  yAxes.push({gridIndex:i,type:'log',min:p.yr[0],max:p.yr[1],axisLine:{show:false},axisTick:{show:false},splitLine:{show:false},
    axisLabel:{customValues:logMajor,rotate:90,margin:20,padding:[0,5,0,0],
      formatter:v=>`{b|10}{e|${Math.round(Math.log10(v))}}`,
      rich:{b:{fontFamily:FONT,fontSize:33,fontWeight:'bold',color:'#000',lineHeight:40,verticalAlign:'bottom'},e:{fontFamily:FONT,fontSize:27,fontWeight:'bold',color:'#000',lineHeight:40,verticalAlign:'top'}}}});
  series.push(cells(i,p.id+' all events',COLORS.gray,p.gray,p.edge,p.lin));
  series.push(cells(i,p.id+' orange gate',COLORS.orange,p.orange,[],p.lin));
  series.push(cells(i,p.id+' red gate',COLORS.red,p.red,[],p.lin));
  series.push(cells(i,p.id+' green gate',COLORS.green,p.green,[],p.lin));
  if(p.lin){series.push(ticks(i,'x',linMajor,17),ticks(i,'x',linMid,11),ticks(i,'x',linMinor,6));}
  else{series.push(ticks(i,'x',logMajor,17),ticks(i,'x',logMinor,6));}
  series.push(ticks(i,'y',logMajor,20),ticks(i,'y',logMinor,7));
});
const chart=echarts.init(document.getElementById('c'),null,{renderer:'canvas',width:1295,height:1230});
chart.setOption({animation:false,backgroundColor:'#fff',grid:grids,xAxis:xAxes,yAxis:yAxes,series,
  graphic:texts.map(([s,x,y,rot,fill])=>({type:'text',x,y,rotation:rot?Math.PI/2:0,z:20,silent:true,
    style:{text:s,font:'52px '+FONT,fill,textAlign:'left',textVerticalAlign:'middle'}}))});
</script></body></html>
